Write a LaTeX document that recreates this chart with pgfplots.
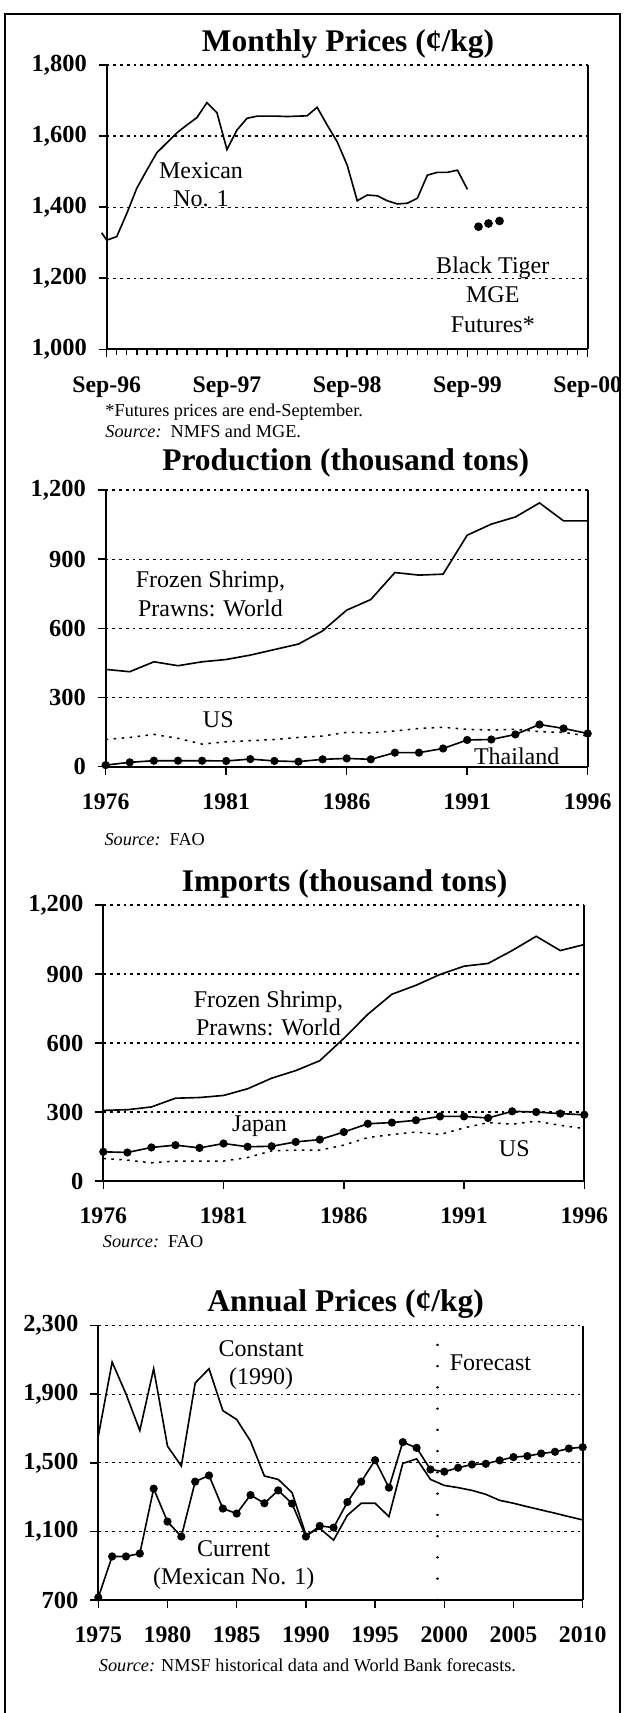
\documentclass[border=0pt]{standalone}
\usepackage{fontspec}
\setmainfont{Liberation Serif}
\usepackage{pgfplots}
\pgfplotsset{compat=1.18}
\pgfplotsset{
  panel/.style={
    scale only axis, anchor=north west, clip=false,
    axis x line*=bottom, axis y line*=left,
    axis line style={-, line width=0.7pt, black},
    tick style={black, line width=0.6pt},
    tick align=outside, major tick length=3.2pt, minor tick length=2.2pt,
    ymajorgrids,
    grid style={black, line width=0.5pt, dash pattern=on 1.1pt off 1.6pt},
    y tick label style={font=\fontsize{9.8}{11}\selectfont\bfseries, xshift=-1.2pt},
    x tick label style={font=\fontsize{9.5}{11}\selectfont\bfseries, anchor=base, yshift=-13.9pt},
    cycle list={{black}},
    every axis plot/.append style={line width=0.65pt, black},
  },
  dotline/.style={line width=0.6pt, dash pattern=on 1pt off 2.2pt},
  dotmark/.style={mark=*, mark size=1.3pt, mark options={solid}},
}
\begin{document}
\begin{tikzpicture}

% ---------------- Panel 1: Monthly prices ----------------
\begin{axis}[panel, at={(42.68pt,-26pt)}, width=192.4pt, height=113.72pt,
  xmin=0, xmax=48, ymin=1000, ymax=1800,
  xtick={0,12,24,36,48}, xticklabels={Sep-96,Sep-97,Sep-98,Sep-99,Sep-00},
  minor x tick num=11,
  ytick={1000,1200,1400,1600,1800},
  yticklabels={{1,000},{1,200},{1,400},{1,600},{1,800}}]
\addplot[black] coordinates {(-0.5,1328) (0,1307) (1,1317) (2,1382) (3,1453) (4,1504)
 (5,1553) (6,1581) (7,1609) (8,1631) (9,1652) (10,1694) (11,1666) (12,1562)
 (13,1617) (14,1650) (15,1656) (16,1656) (17,1656) (18,1655) (19,1656) (20,1657)
 (21,1681) (22,1631) (23,1584) (24,1518) (25,1418) (26,1434) (27,1432) (28,1418)
 (29,1409) (30,1411) (31,1425) (32,1490) (33,1498) (34,1498) (35,1504) (36,1450)};
\addplot[only marks, mark=*, mark size=1.4pt] coordinates {(37.1,1345) (38.1,1354) (39.2,1361)};
\draw[line width=0.7pt] (rel axis cs:1,0) -- (rel axis cs:1,1);
\end{axis}

% ---------------- Panel 2: Production ----------------
\begin{axis}[panel, at={(42.28pt,-196pt)}, width=192.8pt, height=110.68pt,
  xmin=1976, xmax=1996, ymin=0, ymax=1200,
  xtick={1976,1981,1986,1991,1996}, xticklabels={1976,1981,1986,1991,1996},
  ytick={0,300,600,900,1200}, yticklabels={0,300,600,900,{1,200}}]
\addplot[black] coordinates {(1976,422) (1977,412) (1978,455) (1979,438) (1980,455)
 (1981,465) (1982,484) (1983,508) (1984,532) (1985,589) (1986,679) (1987,725)
 (1988,842) (1989,831) (1990,835) (1991,1004) (1992,1052) (1993,1083) (1994,1144)
 (1995,1066) (1996,1066)};
\addplot[dotline] coordinates {(1976,118) (1977,127) (1978,140) (1979,123) (1980,98)
 (1981,108) (1982,113) (1983,118) (1984,127) (1985,133) (1986,149) (1987,147)
 (1988,155) (1989,166) (1990,171) (1991,162) (1992,159) (1993,162) (1994,152)
 (1995,149) (1996,133)};
\addplot[dotmark] coordinates {(1976,7) (1977,19) (1978,26) (1979,26) (1980,26)
 (1981,25) (1982,33) (1983,25) (1984,22) (1985,32) (1986,36) (1987,32) (1988,61)
 (1989,61) (1990,79) (1991,116) (1992,118) (1993,140) (1994,183) (1995,166) (1996,144)};
\draw[line width=0.7pt] (rel axis cs:1,0) -- (rel axis cs:1,1);
\end{axis}

% ---------------- Panel 3: Imports ----------------
\begin{axis}[panel, at={(41.32pt,-362pt)}, width=192.4pt, height=110.4pt,
  xmin=1976, xmax=1996, ymin=0, ymax=1200,
  xtick={1976,1981,1986,1991,1996}, xticklabels={1976,1981,1986,1991,1996},
  ytick={0,300,600,900,1200}, yticklabels={0,300,600,900,{1,200}}]
\addplot[black] coordinates {(1976,307) (1977,310) (1978,322) (1979,360) (1980,363)
 (1981,372) (1982,401) (1983,447) (1984,480) (1985,523) (1986,620) (1987,725)
 (1988,812) (1989,851) (1990,898) (1991,934) (1992,946) (1993,1002) (1994,1064)
 (1995,1002) (1996,1028)};
\addplot[dotmark] coordinates {(1976,127) (1977,124) (1978,146) (1979,156) (1980,144)
 (1981,163) (1982,149) (1983,151) (1984,170) (1985,180) (1986,213) (1987,249)
 (1988,254) (1989,264) (1990,281) (1991,281) (1992,274) (1993,303) (1994,300)
 (1995,293) (1996,288)};
\addplot[dotline] coordinates {(1976,98) (1977,91) (1978,79) (1979,87) (1980,87)
 (1981,87) (1982,102) (1983,131) (1984,134) (1985,134) (1986,156) (1987,189)
 (1988,202) (1989,213) (1990,202) (1991,231) (1992,254) (1993,247) (1994,260)
 (1995,242) (1996,228)};
\draw[line width=0.7pt] (rel axis cs:1,0) -- (rel axis cs:1,1);
\end{axis}

% ---------------- Panel 4: Annual prices ----------------
\begin{axis}[panel, at={(39.32pt,-530.2pt)}, width=193.76pt, height=109.8pt,
  xmin=1975, xmax=2010, ymin=700, ymax=2300,
  xtick={1975,1980,1985,1990,1995,2000,2005,2010},
  xticklabels={1975,1980,1985,1990,1995,2000,2005,2010},
  ytick={700,1100,1500,1900,2300},
  yticklabels={700,{1,100},{1,500},{1,900},{2,300}}]
\addplot[line width=0.9pt, line cap=round, dash pattern=on 0.1pt off 8.4pt]
  coordinates {(1999.5,700) (1999.5,2300)};
\addplot[black] coordinates {(1975,1655) (1976,2087) (1977,1901) (1978,1688) (1979,2048)
 (1980,1597) (1981,1481) (1982,1965) (1983,2048) (1984,1804) (1985,1752) (1986,1626)
 (1987,1423) (1988,1403) (1989,1326) (1990,1080) (1991,1118) (1992,1049) (1993,1194)
 (1994,1264) (1995,1264) (1996,1186) (1997,1496) (1998,1523) (1999,1403) (2000,1368)
 (2001,1355) (2002,1339) (2003,1316) (2004,1281) (2005,1264) (2006,1244) (2007,1225)
 (2008,1206) (2009,1186) (2010,1167)};
\addplot[dotmark] coordinates {(1975,715) (1976,954) (1977,954) (1978,971) (1979,1349)
 (1980,1157) (1981,1070) (1982,1390) (1983,1426) (1984,1233) (1985,1204) (1986,1312)
 (1987,1264) (1988,1339) (1989,1262) (1990,1070) (1991,1132) (1992,1122) (1993,1271)
 (1994,1390) (1995,1515) (1996,1355) (1997,1620) (1998,1587) (1999,1461) (2000,1448)
 (2001,1471) (2002,1490) (2003,1494) (2004,1514) (2005,1533) (2006,1539) (2007,1554)
 (2008,1564) (2009,1583) (2010,1591)};
\draw[line width=0.7pt] (rel axis cs:1,0) -- (rel axis cs:1,1);
\end{axis}

% ---------------- Texts and frame ----------------
\begin{scope}[x=0.4pt,y=-0.4pt]
\draw[line width=1pt] (5,1713) -- (5,14) -- (620,14) -- (620,1713);
\tikzset{ttl/.style={anchor=base, font=\fontsize{12.6}{15}\selectfont\bfseries},
  lbl/.style={align=center, inner sep=0pt, font=\fontsize{9.6}{11.4}\selectfont},
  note/.style={anchor=base west, inner sep=0pt, font=\fontsize{7.3}{9}\selectfont}}
\node[ttl] at (348,51.7) {Monthly Prices (¢/kg)};
\node[ttl] at (345.8,471) {Production (thousand tons)};
\node[ttl] at (344.7,892) {Imports (thousand tons)};
\node[ttl] at (345.6,1311.6) {Annual Prices (¢/kg)};

\node[lbl] at (201,184.7) {Mexican\\No. 1};
\node[lbl, font=\fontsize{9.6}{11.9}\selectfont] at (492.8,294.7) {Black Tiger\\MGE\\Futures*};

\node[lbl] at (210.5,594) {Frozen Shrimp,\\Prawns: World};
\node[lbl] at (218.3,720) {US};
\node[lbl] at (516.7,756) {Thailand};

\node[lbl] at (268.5,1013.4) {Frozen Shrimp,\\Prawns: World};
\node[lbl] at (259.5,1126.7) {Japan};
\node[lbl] at (514.3,1148.3) {US};

\node[lbl] at (261.2,1365.3) {Constant\\(1990)};
\node[lbl] at (490.5,1362.3) {Forecast};
\node[lbl] at (233.7,1565.3) {Current\\(Mexican No. 1)};

\node[note] at (105,417) {*Futures prices are end-September.};
\node[note] at (105,437) {\textit{Source:}\ \ NMFS and MGE.};
\node[note] at (104,846) {\textit{Source:}\ \ FAO};
\node[note] at (102.5,1248) {\textit{Source:}\ \ FAO};
\node[note] at (98.5,1672) {\textit{Source:} NMSF historical data and World Bank forecasts.};
\end{scope}
\pgfresetboundingbox
\useasboundingbox (0,0) rectangle (249.2pt,-685.2pt);
\end{tikzpicture}
\end{document}
